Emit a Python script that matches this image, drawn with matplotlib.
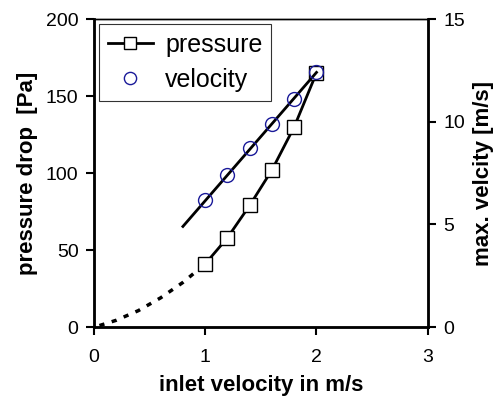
import matplotlib.pyplot as plt

plt.rcParams['font.family'] = ['Liberation Sans', 'DejaVu Sans']

# measured points
inlet = [1.0, 1.2, 1.4, 1.6, 1.8, 2.0]
pressure = [41, 58, 79, 102, 130, 165]
velocity = [6.2, 7.4, 8.7, 9.9, 11.1, 12.4]

# extrapolated pressure curve (dotted)
extra_x = [0.05, 0.2, 0.4, 0.6, 0.8, 1.0]
extra_p = [1, 4.4, 10.7, 19, 29, 41]

# velocity fit line
vfit_x = [0.8, 2.0]
vfit_v = [4.9, 12.4]

fig = plt.figure(figsize=(4.94, 3.96), dpi=100)
ax = fig.add_axes([0.19, 0.174, 0.676, 0.778])
ax2 = ax.twinx()

ax.plot(extra_x, extra_p, color='black', lw=2.5, ls=(0, (1.5, 2.2)))
ax.plot(inlet, pressure, color='black', lw=2, marker='s', ms=10,
        mfc='white', mec='black', mew=1, label='pressure', zorder=3)

ax2.plot(vfit_x, vfit_v, color='black', lw=2)
ax2.plot(inlet, velocity, ls='none', marker='o', ms=10, mfc='none',
         mec='#1a1a99', mew=1, zorder=4)

# legend entry for velocity on the main axes
ax.plot([], [], ls='none', marker='o', ms=11, mfc='none', mec='#1a1a99',
        label='velocity')

ax.set_xlim(0, 3)
ax.set_ylim(0, 200)
ax2.set_ylim(0, 15)
ax.set_xticks([0, 1, 2, 3])
ax.set_yticks([0, 50, 100, 150, 200])
ax2.set_yticks([0, 5, 10, 15])

for a in (ax, ax2):
    for s in a.spines.values():
        s.set_linewidth(1.0)
    a.tick_params(labelsize=14, length=6, width=1.5, direction='out', pad=5)
ax.tick_params(axis='x', pad=10)
ax.spines['left'].set_linewidth(2)
ax.spines['bottom'].set_linewidth(2)
ax2.spines['right'].set_linewidth(2)

ax.set_xlabel('inlet velocity in m/s', fontsize=16, fontweight='bold', labelpad=6)
ax.set_ylabel('pressure drop  [Pa]', fontsize=16, fontweight='bold', labelpad=6)
ax2.set_ylabel('max. velcity [m/s]', fontsize=16, fontweight='bold', labelpad=6)

leg = ax.legend(loc='upper left', fontsize=18, frameon=True, fancybox=False,
                edgecolor='black', handlelength=1.8, borderaxespad=0.2,
                handletextpad=0.5, labelspacing=0.45, borderpad=0.35,
                markerscale=0.8)
leg.get_frame().set_linewidth(0.8)

fig.savefig('out.png', dpi=100)
